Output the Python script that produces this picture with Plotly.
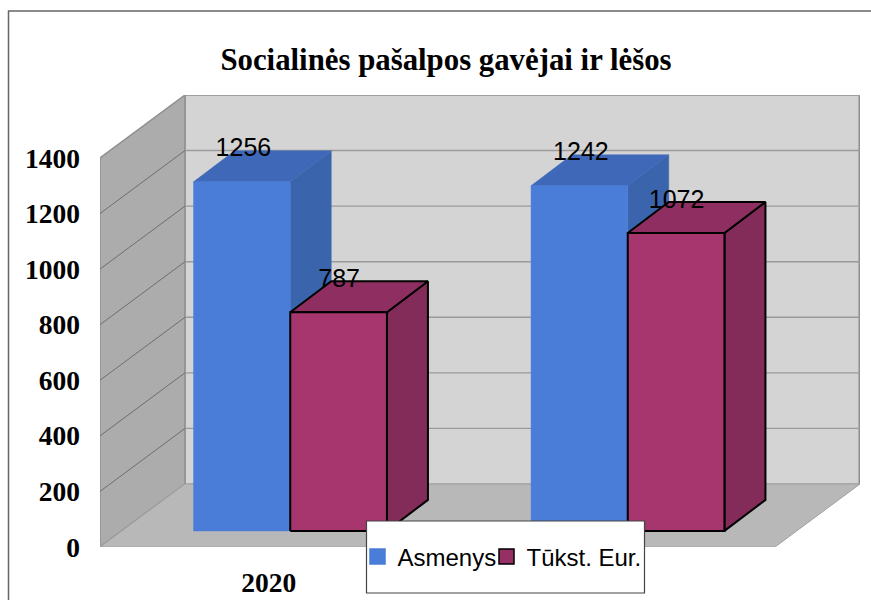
import plotly.graph_objects as go

categories = ["2020", ""]  # the second label is hidden behind the legend in the reference
persons = [1256, 1242]
thousand_eur = [787, 1072]
y_ticks = [0, 200, 400, 600, 800, 1000, 1200, 1400]
title = "Socialinės pašalpos gavėjai ir lėšos"
names = ["Asmenys", "Tūkst. Eur."]

W, H = 871, 600
L, R, T, B = 100, 860, 95, 547  # plot area in window pixels
Y_TOP = 1626.5
X0, X1 = -0.5, 1.7519
DX, DY = 0.2519, 226.7          # wall depth
BDX, BDY = 0.1215, 111.5        # bar depth
OFFX, OFFY = 0.0637, 58.0       # bar's front face offset
BW = 0.2865
LABEL_UP = 114.0
LABEL_DX = [0.0045, 0.0015]

WALL_BACK = "#d4d4d4"
WALL_LEFT = "#acacac"
FLOOR = "#b8b8b8"
EDGE = "#8e8e8e"
GRID = "#9a9a9a"
GRID_L = "#666666"
COLORS = [
    dict(front="#4a7dd8", top="#3f69b8", side="#3a64ab", line=None),
    dict(front="#a7366f", top="#8f2e60", side="#832b59", line="#000000"),
]

fig = go.Figure()


def poly(xs, ys, fill, line=None, width=1.0):
    fig.add_trace(go.Scatter(
        x=xs + xs[:1], y=ys + ys[:1], mode="lines", fill="toself", fillcolor=fill,
        line=dict(color=line or fill, width=width), hoverinfo="skip", showlegend=False))


def seg(xs, ys, color, width=1.0):
    fig.add_trace(go.Scatter(x=xs, y=ys, mode="lines", line=dict(color=color, width=width),
                             hoverinfo="skip", showlegend=False))


FX1 = X1 - DX  # right end of front floor edge

# walls and floor
poly([X0 + DX, X1, X1, X0 + DX], [DY, DY, Y_TOP, Y_TOP], WALL_BACK, "#a8a8a8", 1.5)
seg([X1, X1], [DY, Y_TOP], "#8e8e8e", 3.0)
poly([X0, X0 + DX, X0 + DX, X0], [0, DY, Y_TOP, y_ticks[-1]], WALL_LEFT, EDGE, 1.5)
poly([X0, FX1, X1, X0 + DX], [0, 0, DY, DY], FLOOR, "#a0a0a0", 1.0)

# grid
for t in y_ticks[1:]:
    seg([X0 + DX, X1], [t + DY, t + DY], GRID, 1.4)
    if t < y_ticks[-1]:
        seg([X0, X0 + DX], [t, t + DY], GRID_L, 0.9)

# 3D bars
for i in range(len(categories)):
    for s, vals in enumerate([persons, thousand_eur]):
        v = vals[i]
        c = COLORS[s]
        a = i + OFFX + (s - 1) * BW
        b = a + BW
        base, top = OFFY, OFFY + v
        lw = 2.0 if c["line"] else 0.5
        poly([b, b + BDX, b + BDX, b], [base, base + BDY, top + BDY, top], c["side"], c["line"], lw)
        poly([a, b, b + BDX, a + BDX], [top, top, top + BDY, top + BDY], c["top"], c["line"], lw)
        poly([a, b, b, a], [base, base, top, top], c["front"], c["line"], lw)

# data labels
for s, vals in enumerate([persons, thousand_eur]):
    fig.add_trace(go.Scatter(
        x=[i + OFFX + LABEL_DX[s] + (s - 0.5) * BW for i in range(len(categories))],
        y=[OFFY + v + LABEL_UP for v in vals],
        text=[str(v) for v in vals], mode="text", textposition="middle center",
        textfont=dict(family="Liberation Sans", size=25, color="#000000"),
        hoverinfo="skip", showlegend=False))

# legend entries: one legend per series, so the pair can sit as close as in the reference
for s, name in enumerate(names):
    fig.add_trace(go.Scatter(
        x=[None], y=[None], mode="markers", name=name, legend="legend" if s == 0 else "legend2",
        marker=dict(symbol="square", size=15, color=COLORS[s]["front"] if s == 0 else "#962f64",
                    line=dict(color=COLORS[s]["line"] or COLORS[s]["front"], width=1.5))))


def px(x):
    return (x - L) / (R - L)


def py(y):
    return (B - y) / (B - T)


tick_font = dict(family="Liberation Serif", size=27.5, color="#000000", weight="bold")
legend_font = dict(family="Liberation Sans", size=24, color="#000000")

fig.update_layout(
    width=W, height=H, autosize=False,
    margin=dict(l=L, r=W - R, t=T, b=H - B, pad=0, autoexpand=False),
    paper_bgcolor="white", plot_bgcolor="white",
    title=dict(text=title, x=446 / W, xanchor="center", y=1 - 59 / H, yanchor="middle",
               font=dict(family="Liberation Serif", size=30.8, color="#000000", weight="bold")),
    xaxis=dict(range=[X0, X1], tickmode="array", tickvals=list(range(len(categories))),
               ticktext=categories, showgrid=False, zeroline=False, showline=False, ticks="",
               ticklabelstandoff=16, automargin=False, tickfont=tick_font),
    yaxis=dict(range=[0, Y_TOP], tickmode="array", tickvals=y_ticks, showgrid=False,
               zeroline=False, showline=False, ticks="", ticklabelstandoff=19,
               automargin=False, tickfont=tick_font),
    legend=dict(orientation="h", x=px(357.5), y=py(557), xanchor="left", yanchor="middle",
                bgcolor="rgba(0,0,0,0)", borderwidth=0, font=legend_font),
    legend2=dict(orientation="h", x=px(486.5), y=py(557), xanchor="left", yanchor="middle",
                 bgcolor="rgba(0,0,0,0)", borderwidth=0, font=legend_font),
    showlegend=True,
    shapes=[
        dict(type="rect", xref="paper", yref="paper", layer="above",
             x0=px(8.5), x1=px(890), y0=py(11), y1=py(620),
             line=dict(color="#666666", width=1.5), fillcolor="rgba(0,0,0,0)"),
        dict(type="rect", xref="paper", yref="paper", layer="above",
             x0=px(366.5), x1=px(644.5), y0=py(521), y1=py(593),
             line=dict(color="#444444", width=1.2), fillcolor="white"),
    ],
)
fig.write_html("out.html", config=dict(displayModeBar=False),
               default_width=f"{W}px", default_height=f"{H}px",
               post_script="document.body.style.margin='0';document.documentElement.style.overflow='hidden';")
